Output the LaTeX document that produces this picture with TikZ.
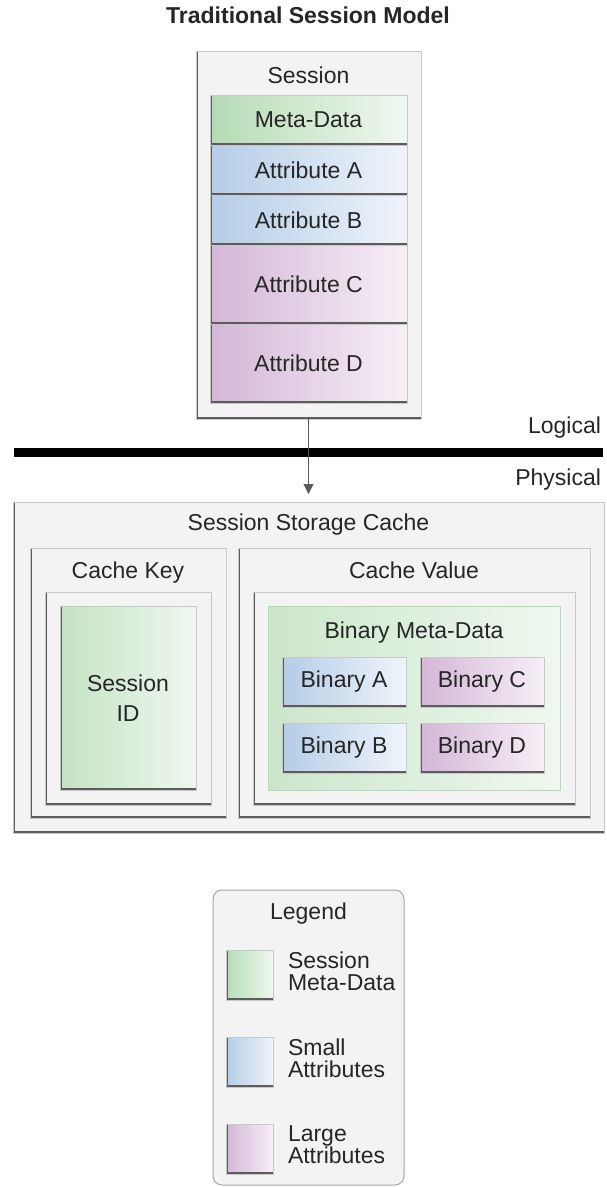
\documentclass[tikz,border=0pt]{standalone}
\usepackage{fontspec}
\setmainfont{Liberation Sans}
\usetikzlibrary{arrows.meta}
\definecolor{grnD}{HTML}{B5DBB5}
\definecolor{grnL}{HTML}{EFF8EF}
\definecolor{bluD}{HTML}{B5CDE7}
\definecolor{bluL}{HTML}{EFF4FA}
\definecolor{purD}{HTML}{D4B6D7}
\definecolor{purL}{HTML}{F6EFF6}
\definecolor{boxF}{HTML}{F3F3F3}
\definecolor{edgeL}{HTML}{C8C8C8}
\definecolor{edgeD}{HTML}{5C5C5C}
\begin{document}
\begin{tikzpicture}[
    x=1pt, y=-1pt,
    every node/.style={inner sep=0pt, outer sep=0pt, text=black!85, font=\fontsize{23}{28}\selectfont},
    bevel/.style={path picture={\draw[edgeD, line width=3.4pt]
        (path picture bounding box.north west) -- (path picture bounding box.south west)
        -- (path picture bounding box.south east);}},
    box/.style={rectangle, draw=edgeL, line width=1pt, fill=boxF, bevel},
    metafill/.style={box, left color=grnD, right color=grnL},
    smallfill/.style={box, left color=bluD, right color=bluL},
    largefill/.style={box, left color=purD, right color=purL},
    label/.style={text height=16.5pt, text depth=4.5pt},
    arrow/.style={->, line width=1pt, draw=black!65, >={Triangle[length=10pt, width=10pt]}}
]
    \useasboundingbox (0,0) rectangle (606,1187);

    % Title
    \node[label, font=\fontsize{23}{28}\selectfont\bfseries] (title) at (308,17) {Traditional Session Model};

    % Session (logical)
    \node[box, minimum width=225pt, minimum height=368pt] (session) at (308.5,235) {};
    \node[label] (sessiont) at (308.5,77) {Session};
    \node[metafill, minimum width=197pt, minimum height=50pt] (meta) at (308.5,120) {Meta-Data};
    \node[smallfill, minimum width=197pt, minimum height=50pt] (attra) at (308.5,170) {Attribute A};
    \node[smallfill, minimum width=197pt, minimum height=50pt] (attrb) at (308.5,220) {Attribute B};
    \node[largefill, minimum width=197pt, minimum height=79pt] (attrc) at (308.5,284.5) {Attribute C};
    \node[largefill, minimum width=197pt, minimum height=79pt] (attrd) at (308.5,363.5) {Attribute D};

    % Logical / Physical divide
    \node[label, anchor=east] (logical) at (601,427) {Logical};
    \node[label, anchor=east] (physical) at (601,479) {Physical};
    \coordinate (divl) at (14,452.5);
    \coordinate (divr) at (603,452.5);
    \draw[line width=9pt] (divl) -- (divr);

    % Session Storage Cache (physical)
    \node[box, minimum width=591pt, minimum height=331pt] (storage) at (308.5,667.5) {};
    \node[label] (storaget) at (308.5,524) {Session Storage Cache};

    \node[box, minimum width=196pt, minimum height=270pt] (cachekey) at (128,683) {};
    \node[label] (cachekeyt) at (128,572) {Cache Key};
    \node[box, minimum width=166pt, minimum height=213pt] (keyin) at (128,698.5) {};
    \node[box, left color=grnD!80, right color=grnL, minimum width=136pt, minimum height=184pt,
          align=center, font=\fontsize{23}{30}\selectfont] (sessionid) at (128,698) {Session\\ID};

    \node[box, minimum width=352pt, minimum height=270pt] (cacheval) at (414,683) {};
    \node[label] (cachevalt) at (414,572) {Cache Value};
    \node[box, minimum width=322pt, minimum height=213pt] (valin) at (414,698.5) {};
    \node[rectangle, draw=grnD, line width=1pt, left color=grnD!70, right color=grnL,
          minimum width=292pt, minimum height=184pt] (binmeta) at (414,698) {};
    \node[label] (binmetat) at (414,632) {Binary Meta-Data};
    \node[smallfill, minimum width=124pt, minimum height=50pt] (bina) at (344,682) {Binary A};
    \node[largefill, minimum width=124pt, minimum height=50pt] (binc) at (482,682) {Binary C};
    \node[smallfill, minimum width=124pt, minimum height=50pt] (binb) at (344,748) {Binary B};
    \node[largefill, minimum width=124pt, minimum height=50pt] (bind) at (482,748) {Binary D};

    % Connection
    \draw[arrow, shorten >=8pt] (session) -- (storage);

    % Legend
    \node[rectangle, rounded corners=9pt, draw=gray!70, line width=1pt, fill=boxF,
          minimum width=191pt, minimum height=295pt] (legend) at (308.5,1037.5) {};
    \node[label] (legendt) at (308.5,913) {Legend};
    \node[metafill, minimum width=47pt, minimum height=50pt] (keymeta) at (249.5,975) {};
    \node[smallfill, minimum width=47pt, minimum height=50pt] (keysmall) at (249.5,1062) {};
    \node[largefill, minimum width=47pt, minimum height=50pt] (keylarge) at (249.5,1149) {};
    \node[anchor=west, align=left, font=\fontsize{23}{22}\selectfont] (keymetat) at (288,971) {Session\\Meta-Data};
    \node[anchor=west, align=left, font=\fontsize{23}{22}\selectfont] (keysmallt) at (288,1058) {Small\\Attributes};
    \node[anchor=west, align=left, font=\fontsize{23}{22}\selectfont] (keylarget) at (288,1145) {Large\\Attributes};
\end{tikzpicture}
\end{document}
